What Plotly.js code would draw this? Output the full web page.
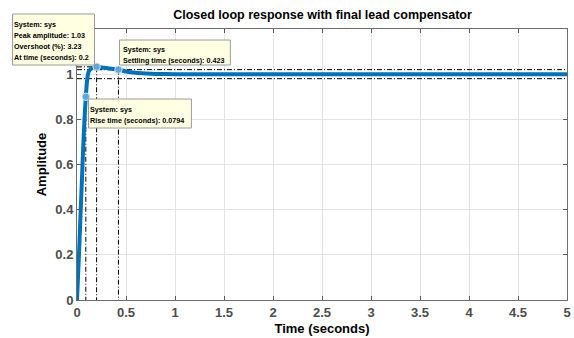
<!DOCTYPE html>
<html>
<head>
<meta charset="utf-8">
<script src="https://cdn.plot.ly/plotly-3.0.1.min.js"></script>
<style>html,body{margin:0;padding:0;background:#fff;}#chart{width:574px;height:338px;}</style>
</head>
<body>
<div id="chart"></div>
<script>
// ---- data ----
const timeS = [0, 0.01, 0.02, 0.03, 0.04, 0.05, 0.06, 0.07, 0.08, 0.09, 0.1, 0.11, 0.12, 0.14, 0.17, 0.2, 0.25, 0.3, 0.35, 0.423, 0.5, 0.6, 0.7, 0.8, 1.0, 1.5, 2, 3, 4, 5];
const amplitude = [0, 0.1, 0.2, 0.31, 0.42, 0.53, 0.64, 0.74, 0.83, 0.9, 0.96, 0.995, 1.012, 1.023, 1.029, 1.0323, 1.03, 1.027, 1.024, 1.02, 1.012, 1.006, 1.003, 1.001, 1.0, 1.0, 1.0, 1.0, 1.0, 1.0];
const peakTime = 0.2, peakAmp = 1.0323;
const settleTime = 0.423, settleAmp = 1.02;
const settleBand = [0.98, 1.02];
const rise90Time = 0.09, rise90Amp = 0.9;
const tEnd = 5;
const xTicks = [0, 0.5, 1, 1.5, 2, 2.5, 3, 3.5, 4, 4.5, 5];
const yTicks = [0, 0.2, 0.4, 0.6, 0.8, 1];
const tipPeak = ["System: sys", "Peak amplitude: 1.03", "Overshoot (%): 3.23", "At time (seconds): 0.2"];
const tipSettle = ["System: sys", "Settling time (seconds): 0.423"];
const tipRise = ["System: sys", "Rise time (seconds): 0.0794"];

// ---- layout helpers (pixel -> paper) ----
const W = 574, H = 338;
const PL = 76.5, PR = 567, PT = 29, PB = 300;
const px = x => (x - PL) / (PR - PL);
const py = y => (PB - y) / (PB - PT);

const blue = '#0072BD';
const dd = '5px,2px,1px,2px';
const refLine = {color: '#000', width: 1, dash: dd};
const FAM = 'Liberation Sans, Arial, sans-serif';

const traces = [
  {x: [0, tEnd], y: [settleBand[0], settleBand[0]], mode: 'lines', line: refLine, hoverinfo: 'skip'},
  {x: [0, tEnd], y: [settleBand[1], settleBand[1]], mode: 'lines', line: refLine, hoverinfo: 'skip'},
  {x: [0, peakTime, peakTime], y: [peakAmp, peakAmp, 0], mode: 'lines', line: refLine, hoverinfo: 'skip'},
  {x: [settleTime, settleTime], y: [settleAmp, 0], mode: 'lines', line: refLine, hoverinfo: 'skip'},
  {x: [rise90Time, rise90Time], y: [rise90Amp, 0], mode: 'lines', line: refLine, hoverinfo: 'skip'},
  {x: timeS, y: amplitude, mode: 'lines', line: {color: blue, width: 4, shape: 'spline', smoothing: 0.6}, hoverinfo: 'skip'},
  {x: [rise90Time, peakTime, settleTime], y: [rise90Amp, peakAmp, settleAmp], mode: 'markers',
   marker: {size: 7.5, color: '#5fa6df', line: {color: '#cfe3f5', width: 1}}, hoverinfo: 'skip'}
];

const shapes = [];
const annotations = [];
function tip(lines, x0, y0, x1, y1, tx, ty0, dy) {
  shapes.push({type: 'rect', xref: 'paper', yref: 'paper', x0: px(x0), x1: px(x1), y0: py(y0), y1: py(y1),
    fillcolor: '#ffffe1', line: {color: '#9a9a9a', width: 1}, layer: 'above'});
  lines.forEach((s, i) => {
    annotations.push({xref: 'paper', yref: 'paper', x: px(tx), y: py(ty0 + i * dy), xanchor: 'left', yanchor: 'middle',
      borderpad: 0, borderwidth: 0,
      text: s, showarrow: false, font: {family: FAM, size: 7.2, color: '#000', weight: 'bold'}});
  });
}
tip(tipPeak, 12, 14, 94, 65, 13.5, 24, 11.1);
tip(tipSettle, 119, 40, 230, 65, 122.5, 49, 11);
tip(tipRise, 88, 99, 191, 128, 90, 109.5, 10.5);

const axFont = {family: FAM, size: 13, color: '#4d4d4d', weight: 'bold'};
const layout = {
  width: W, height: H,
  margin: {l: PL, r: W - PR, t: PT, b: H - PB, pad: 0},
  paper_bgcolor: '#fff', plot_bgcolor: '#fff',
  showlegend: false,
  title: {text: '<b>Closed loop response with final lead compensator</b>', x: 322.5 / W, xanchor: 'center',
    y: 1 - 15 / H, yanchor: 'middle', yref: 'container', xref: 'container',
    font: {family: FAM, size: 12.5, color: '#000', weight: 'bold'}},
  xaxis: {range: [0, tEnd], tickvals: xTicks, ticktext: xTicks.map(v => '<b>' + v + '</b>'), ticks: 'inside', ticklen: 4, tickcolor: '#5a5a5a',
    showgrid: true, gridcolor: '#e3e3e3', gridwidth: 1, zeroline: false, showline: true, linecolor: '#6e6e6e', linewidth: 1, mirror: 'ticks',
    tickfont: axFont,
    title: {text: '<b>Time (seconds)</b>', standoff: 5, font: {family: FAM, size: 13, color: '#000', weight: 'bold'}}},
  yaxis: {range: [0, 1.2], tickvals: yTicks, ticktext: yTicks.map(v => '<b>' + v + '</b>'), ticks: 'inside', ticklen: 4, tickcolor: '#5a5a5a',
    showgrid: true, gridcolor: '#e3e3e3', gridwidth: 1, zeroline: false, showline: true, linecolor: '#6e6e6e', linewidth: 1, mirror: 'ticks',
    tickfont: axFont,
    title: {text: '<b>Amplitude</b>', standoff: 5, font: {family: FAM, size: 13, color: '#000', weight: 'bold'}}},
  shapes: shapes,
  annotations: annotations
};

Plotly.newPlot('chart', traces, layout, {staticPlot: true, displayModeBar: false});
</script>
</body>
</html>
